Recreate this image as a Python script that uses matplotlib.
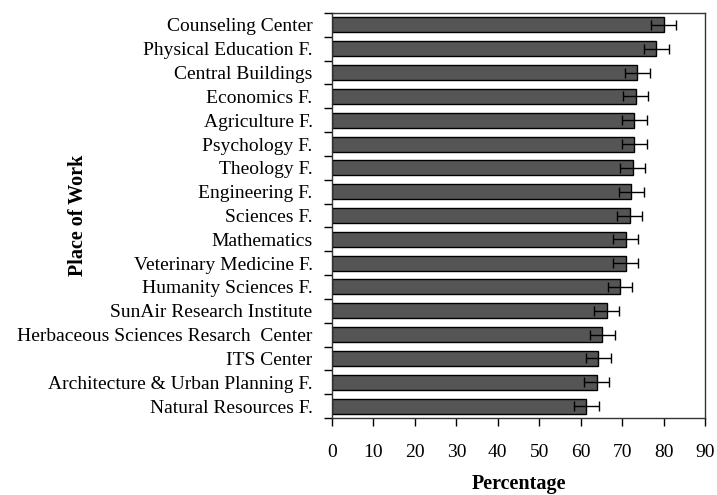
import numpy as np
import matplotlib.pyplot as plt

places = [
    "Counseling Center",
    "Physical Education F.",
    "Central Buildings",
    "Economics F.",
    "Agriculture F.",
    "Psychology F.",
    "Theology F.",
    "Engineering F.",
    "Sciences F.",
    "Mathematics",
    "Veterinary Medicine F.",
    "Humanity Sciences F.",
    "SunAir Research Institute",
    "Herbaceous Sciences Resarch  Center",
    "ITS Center",
    "Architecture & Urban Planning F.",
    "Natural Resources F.",
]
percentage = [80.0, 78.2, 73.7, 73.3, 72.9, 72.9, 72.6, 72.2, 71.8,
              70.9, 70.9, 69.5, 66.3, 65.2, 64.2, 63.9, 61.4]
error = [3.0] * len(places)

plt.rcParams["font.family"] = ["Liberation Serif", "DejaVu Serif"]

fig = plt.figure(figsize=(7.17, 4.95), dpi=100)
ax = fig.add_axes([332 / 717, 1 - 418 / 495, 373 / 717, 405 / 495])

y = np.arange(len(places))
ax.barh(y, percentage, height=0.63, color="#555555", edgecolor="black",
        linewidth=1.0, xerr=error,
        error_kw=dict(ecolor="black", elinewidth=1.0, capsize=3.5, capthick=1.0))

ax.set_ylim(len(places) - 0.5, -0.5)
ax.set_xlim(0, 90)
ax.set_xticks(range(0, 91, 10))
ax.set_yticks(y)
ax.set_yticklabels(places, fontsize=14)
ax.set_yticks(np.arange(-0.5, len(places), 1), minor=True)
ax.tick_params(axis="y", which="major", length=0, pad=14)
ax.tick_params(axis="y", which="minor", length=6, width=1, direction="out")
ax.tick_params(axis="x", length=6, width=1, direction="out", pad=13, labelsize=14)

for s in ax.spines.values():
    s.set_linewidth(1.0)
    s.set_color("#333333")

ax.set_xlabel("Percentage", fontsize=14.5, fontweight="bold", labelpad=9)
ax.set_ylabel("Place of Work", fontsize=14.5, fontweight="bold")
ax.yaxis.set_label_coords(-0.654, 0.5)

fig.savefig("out.png", dpi=100)
